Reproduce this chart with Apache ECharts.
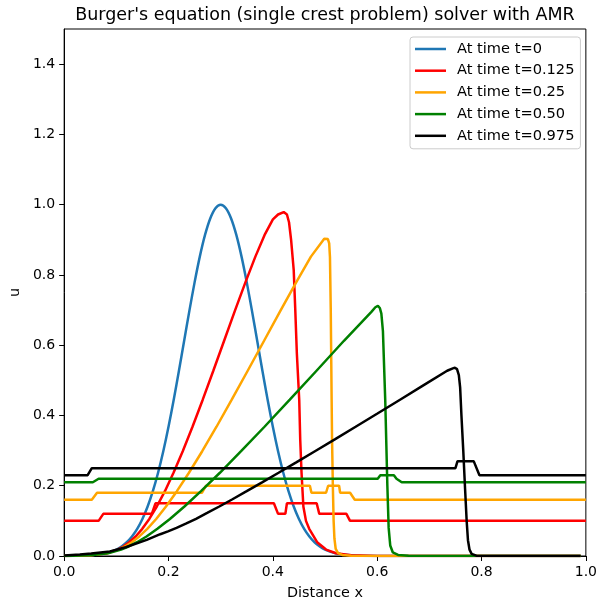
<!DOCTYPE html>
<html>
<head>
<meta charset="utf-8">
<script src="https://cdn.jsdelivr.net/npm/echarts@6/dist/echarts.min.js"></script>
<style>
  html, body { margin: 0; padding: 0; background: #fff; }
  #chart { width: 600px; height: 606px; }
</style>
</head>
<body>
<div id="chart"></div>
<script>
// Solution u(x) of Burgers' equation at several times (single crest initial state)
const xT0 = [0, 0.05, 0.08, 0.10, 0.11, 0.12, 0.13, 0.14, 0.15, 0.16, 0.17, 0.18, 0.19, 0.20, 0.21, 0.22, 0.23, 0.24, 0.25, 0.26, 0.27, 0.28, 0.29, 0.30,
             0.31, 0.32, 0.33, 0.34, 0.35, 0.36, 0.37, 0.38, 0.39, 0.40, 0.41, 0.42, 0.43, 0.44, 0.45, 0.46, 0.47, 0.48, 0.49, 0.50, 0.52, 0.55, 0.60, 0.99];
const uT0 = [0.0001, 0.0019, 0.0079, 0.0183, 0.0271, 0.0392, 0.0556, 0.0773, 0.1054, 0.1409, 0.1845, 0.2369, 0.2982, 0.3679, 0.4449, 0.5273, 0.6126, 0.6977, 0.7788, 0.8521, 0.9139, 0.9608, 0.9900, 1.0000,
             0.9900, 0.9608, 0.9139, 0.8521, 0.7788, 0.6977, 0.6126, 0.5273, 0.4449, 0.3679, 0.2982, 0.2369, 0.1845, 0.1409, 0.1054, 0.0773, 0.0556, 0.0392, 0.0271, 0.0183, 0.0079, 0.0019, 0.0001, 0];

const xT0125 = [0, 0.0502, 0.0810, 0.1023, 0.1134, 0.1249, 0.1370, 0.1497, 0.1632, 0.1776, 0.1931, 0.2096, 0.2273, 0.2460, 0.2656, 0.2859, 0.3066, 0.3272, 0.3474, 0.3665, 0.3842, 0.4001,
                0.410, 0.4208, 0.427, 0.431, 0.435, 0.440, 0.443, 0.446, 0.4506, 0.4525, 0.455, 0.4585, 0.4635, 0.4697, 0.4849, 0.502, 0.521, 0.55, 0.60, 0.99];
const uT0125 = [0.0001, 0.0019, 0.0079, 0.0183, 0.0271, 0.0392, 0.0556, 0.0773, 0.1054, 0.1409, 0.1845, 0.2369, 0.2982, 0.3679, 0.4449, 0.5273, 0.6126, 0.6977, 0.7788, 0.8521, 0.9139, 0.9580,
                0.972, 0.979, 0.972, 0.950, 0.900, 0.814, 0.700, 0.577, 0.444, 0.330, 0.237, 0.141, 0.100, 0.0773, 0.0392, 0.0183, 0.0079, 0.002, 0.0001, 0];

const xT025 = [0, 0.0505, 0.0820, 0.1046, 0.1168, 0.1298, 0.1439, 0.1593, 0.1764, 0.1952, 0.2161, 0.2392, 0.2646, 0.2920, 0.3212, 0.3518, 0.3832, 0.4144, 0.4447, 0.4730, 0.4985,
               0.502, 0.5055, 0.508, 0.5095, 0.511, 0.5127, 0.5135, 0.515, 0.5165, 0.518, 0.5205, 0.525, 0.533, 0.55, 0.60, 0.99];
const uT025 = [0.0001, 0.0019, 0.0079, 0.0183, 0.0271, 0.0392, 0.0556, 0.0773, 0.1054, 0.1409, 0.1845, 0.2369, 0.2982, 0.3679, 0.4449, 0.5273, 0.6126, 0.6977, 0.7788, 0.8521, 0.903,
               0.907, 0.902, 0.890, 0.850, 0.700, 0.444, 0.330, 0.200, 0.100, 0.050, 0.020, 0.008, 0.003, 0.001, 0, 0];

const xT050 = [0, 0.051, 0.084, 0.1092, 0.1236, 0.1396, 0.1578, 0.1787, 0.2027, 0.2305, 0.2623, 0.2985, 0.3391, 0.3840, 0.4325, 0.4837, 0.5363, 0.5889,
               0.5965, 0.6014, 0.605, 0.608, 0.611, 0.6155, 0.6195, 0.622, 0.625, 0.630, 0.640, 0.660, 0.99];
const uT050 = [0.0001, 0.0019, 0.0079, 0.0183, 0.0271, 0.0392, 0.0556, 0.0773, 0.1054, 0.1409, 0.1845, 0.2369, 0.2982, 0.3679, 0.4449, 0.5273, 0.6126, 0.695,
               0.708, 0.712, 0.706, 0.690, 0.640, 0.440, 0.200, 0.080, 0.030, 0.010, 0.003, 0.0005, 0];

const xT0975 = [0, 0.03, 0.0519, 0.0877, 0.1178, 0.1582, 0.1842, 0.199, 0.2154, 0.2332, 0.2528, 0.2741, 0.2974, 0.3226, 0.3499, 0.3794, 0.4110, 0.4448, 0.4807, 0.5188,
                0.5587, 0.6005, 0.6438, 0.6884, 0.7341,
                0.745, 0.749, 0.753, 0.7565, 0.759, 0.7615, 0.765, 0.7685, 0.7715, 0.774, 0.777, 0.781, 0.79, 0.99];
const uT0975 = [0.0015, 0.004, 0.007, 0.013, 0.025, 0.046, 0.062, 0.070, 0.080, 0.092, 0.1058, 0.1225, 0.1409, 0.1616, 0.1845, 0.2096, 0.2369, 0.2665, 0.2982, 0.3321,
                0.3679, 0.4056, 0.4449, 0.4855, 0.5273,
                0.534, 0.536, 0.532, 0.515, 0.480, 0.400, 0.300, 0.190, 0.100, 0.045, 0.018, 0.006, 0.001, 0];

// Refinement-level markers drawn with each solution (offset levels)
const xLvl0125 = [0, 0.066, 0.075, 0.168, 0.175, 0.402, 0.410, 0.424, 0.427, 0.484, 0.489, 0.541, 0.548, 1.0];
const uLvl0125 = [0.10, 0.10, 0.12, 0.12, 0.15, 0.15, 0.12, 0.12, 0.15, 0.15, 0.12, 0.12, 0.10, 0.10];
const xLvl025 = [0, 0.053, 0.063, 0.264, 0.272, 0.471, 0.474, 0.502, 0.506, 0.527, 0.529, 0.548, 0.557, 1.0];
const uLvl025 = [0.16, 0.16, 0.18, 0.18, 0.20, 0.20, 0.18, 0.18, 0.20, 0.20, 0.18, 0.18, 0.16, 0.16];
const xLvl050 = [0, 0.055, 0.066, 0.601, 0.606, 0.632, 0.637, 0.640, 0.647, 1.0];
const uLvl050 = [0.21, 0.21, 0.22, 0.22, 0.23, 0.23, 0.22, 0.22, 0.21, 0.21];
const xLvl0975 = [0, 0.045, 0.053, 0.750, 0.754, 0.785, 0.796, 1.0];
const uLvl0975 = [0.23, 0.23, 0.25, 0.25, 0.27, 0.27, 0.23, 0.23];

const names = ['At time t=0', 'At time t=0.125', 'At time t=0.25', 'At time t=0.50', 'At time t=0.975'];
const colors = ['#1f77b4', '#ff0000', '#ffa500', '#008000', '#000000'];
const xTicks = [0, 0.2, 0.4, 0.6, 0.8, 1.0];
const yTicks = [0, 0.2, 0.4, 0.6, 0.8, 1.0, 1.2, 1.4];

const FONT = 'DejaVu Sans';
const LW = 2.5;
const pairs = (xs, us) => xs.map((x, i) => [x, us[i]]);

function curve(name, color, xs, us, smooth) {
  return {
    name: name, type: 'line', data: pairs(xs, us),
    showSymbol: false, symbol: 'none', silent: true,
    smooth: smooth || false,
    itemStyle: { color: color },
    lineStyle: { color: color, width: LW }
  };
}
function levels(name, color, xs, us) {
  return {
    name: name, type: 'line', data: pairs(xs, us),
    showSymbol: false, symbol: 'none', silent: true,
    lineStyle: { color: color, width: LW }
  };
}

const series = [
  curve(names[0], colors[0], xT0, uT0, 0.3),
  curve(names[1], colors[1], xT0125, uT0125),
  levels('levels t=0.125', colors[1], xLvl0125, uLvl0125),
  curve(names[2], colors[2], xT025, uT025),
  levels('levels t=0.25', colors[2], xLvl025, uLvl025),
  curve(names[3], colors[3], xT050, uT050),
  levels('levels t=0.50', colors[3], xLvl050, uLvl050),
  curve(names[4], colors[4], xT0975, uT0975),
  levels('levels t=0.975', colors[4], xLvl0975, uLvl0975)
];

const chart = echarts.init(document.getElementById('chart'), null, { renderer: 'canvas' });
chart.setOption({
  animation: false,
  backgroundColor: '#ffffff',
  title: {
    text: "Burger's equation (single crest problem) solver with AMR",
    left: 325, top: 6, padding: 0, textAlign: 'center',
    textStyle: { fontFamily: FONT, fontSize: 17.5, fontWeight: 'normal', color: '#000' }
  },
  legend: {
    data: names,
    orient: 'vertical',
    left: 410, top: 37,
    padding: [4.5, 6, 5.5, 5],
    itemGap: 6.7,
    itemWidth: 31, itemHeight: 2.5,
    icon: 'rect',
    backgroundColor: 'rgba(255,255,255,0.8)',
    borderColor: '#cccccc', borderWidth: 1, borderRadius: 3,
    textStyle: { fontFamily: FONT, fontSize: 14.6, color: '#000', lineHeight: 15, padding: [0, 0, 0, 6] }
  },
  grid: {
    left: 62, right: 12, top: 29, bottom: 50,
    show: true, borderColor: '#000', borderWidth: 1, backgroundColor: 'transparent'
  },
  xAxis: {
    type: 'value', min: 0, max: 1.0,
    name: 'Distance x', nameLocation: 'middle', nameGap: 30,
    nameTextStyle: { fontFamily: FONT, fontSize: 14.4, color: '#000' },
    splitLine: { show: false },
    axisLine: { show: true, lineStyle: { color: '#000', width: 1 } },
    axisTick: { show: true, length: 5, inside: false, customValues: xTicks, lineStyle: { color: '#000' } },
    axisLabel: { customValues: xTicks, margin: 9, fontFamily: FONT, fontSize: 14, color: '#000',
                 formatter: v => v.toFixed(1) }
  },
  yAxis: {
    type: 'value', min: 0, max: 1.5,
    name: 'u', nameLocation: 'middle', nameGap: 42, nameRotate: 90,
    nameTextStyle: { fontFamily: FONT, fontSize: 14.4, color: '#000' },
    splitLine: { show: false },
    axisLine: { show: true, lineStyle: { color: '#000', width: 1 } },
    axisTick: { show: true, length: 5, inside: false, customValues: yTicks, lineStyle: { color: '#000' } },
    axisLabel: { customValues: yTicks, margin: 9, fontFamily: FONT, fontSize: 14, color: '#000',
                 formatter: v => v.toFixed(1) }
  },
  series: series
});
</script>
</body>
</html>
